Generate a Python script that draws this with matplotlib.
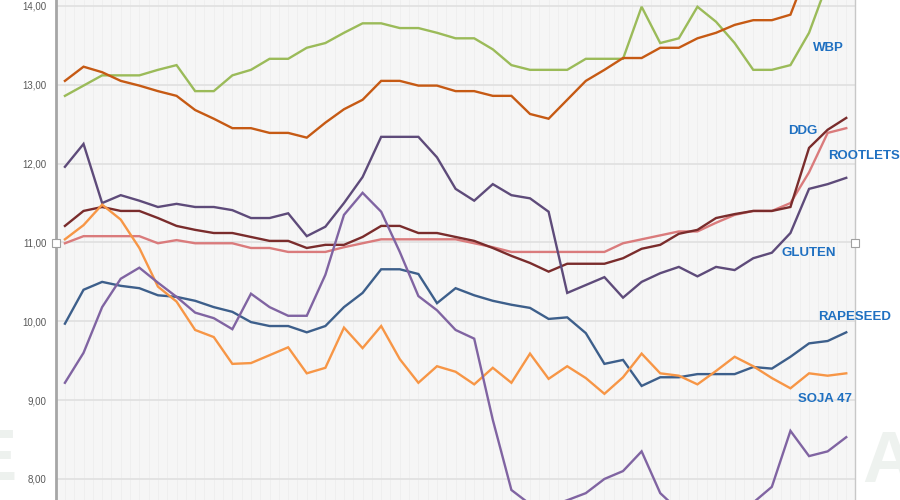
import numpy as np
import matplotlib
matplotlib.use('Agg')
import matplotlib.pyplot as plt

matplotlib.rcParams['hatch.color'] = '#e8e8e8'
matplotlib.rcParams['hatch.linewidth'] = 0.6

# weekly prices, 43 points (values above 14.08 are cut off at the top)
wbp = [12.86, 12.99, 13.12, 13.12, 13.12, 13.19, 13.25, 12.92, 12.92, 13.12, 13.19,
       13.33, 13.33, 13.47, 13.53, 13.66, 13.78, 13.78, 13.72, 13.72, 13.66, 13.59,
       13.59, 13.45, 13.25, 13.19, 13.19, 13.19, 13.33, 13.33, 13.33, 13.99, 13.53,
       13.59, 13.99, 13.80, 13.53, 13.19, 13.19, 13.25, 13.66, 14.30, 14.60]
brown = [13.05, 13.23, 13.16, 13.05, 12.99, 12.92, 12.86, 12.68, 12.57, 12.45, 12.45,
         12.39, 12.39, 12.33, 12.52, 12.69, 12.81, 13.05, 13.05, 12.99, 12.99, 12.92,
         12.92, 12.86, 12.86, 12.63, 12.57, 12.81, 13.05, 13.19, 13.34, 13.34, 13.47,
         13.47, 13.59, 13.66, 13.76, 13.82, 13.82, 13.89, 14.50, 14.80, 15.00]
ddg = [11.21, 11.40, 11.45, 11.40, 11.40, 11.31, 11.21, 11.16, 11.12, 11.12, 11.07,
       11.02, 11.02, 10.93, 10.97, 10.97, 11.07, 11.21, 11.21, 11.12, 11.12, 11.07,
       11.02, 10.93, 10.83, 10.74, 10.63, 10.73, 10.73, 10.73, 10.80, 10.92, 10.97,
       11.11, 11.16, 11.31, 11.36, 11.40, 11.40, 11.45, 12.20, 12.43, 12.58]
rootlets = [10.99, 11.08, 11.08, 11.08, 11.08, 10.99, 11.03, 10.99, 10.99, 10.99, 10.93,
            10.93, 10.88, 10.88, 10.88, 10.94, 10.99, 11.04, 11.04, 11.04, 11.04, 11.04,
            10.99, 10.94, 10.88, 10.88, 10.88, 10.88, 10.88, 10.88, 10.99, 11.04, 11.09,
            11.14, 11.14, 11.25, 11.35, 11.40, 11.40, 11.50, 11.89, 12.39, 12.45]
gluten = [11.96, 12.25, 11.50, 11.60, 11.53, 11.45, 11.49, 11.45, 11.45, 11.41, 11.31,
          11.31, 11.37, 11.08, 11.20, 11.50, 11.83, 12.34, 12.34, 12.34, 12.08, 11.68,
          11.53, 11.74, 11.60, 11.56, 11.39, 10.36, 10.46, 10.56, 10.30, 10.50, 10.61,
          10.69, 10.57, 10.69, 10.65, 10.80, 10.87, 11.12, 11.68, 11.74, 11.82]
rapeseed = [9.97, 10.40, 10.50, 10.45, 10.42, 10.33, 10.31, 10.26, 10.18, 10.12, 9.99,
            9.94, 9.94, 9.86, 9.94, 10.18, 10.36, 10.66, 10.66, 10.60, 10.23, 10.42,
            10.33, 10.26, 10.21, 10.17, 10.03, 10.05, 9.85, 9.46, 9.51, 9.18, 9.29,
            9.29, 9.33, 9.33, 9.33, 9.42, 9.40, 9.55, 9.72, 9.75, 9.86]
soja47 = [11.04, 11.22, 11.48, 11.29, 10.93, 10.44, 10.25, 9.89, 9.80, 9.46, 9.47,
          9.57, 9.67, 9.34, 9.41, 9.92, 9.66, 9.94, 9.52, 9.22, 9.43, 9.36,
          9.20, 9.41, 9.22, 9.59, 9.27, 9.43, 9.28, 9.08, 9.29, 9.59, 9.34,
          9.31, 9.20, 9.37, 9.55, 9.43, 9.28, 9.15, 9.34, 9.31, 9.34]
lilac = [9.22, 9.60, 10.18, 10.54, 10.68, 10.49, 10.31, 10.11, 10.04, 9.90, 10.35,
         10.18, 10.07, 10.07, 10.59, 11.35, 11.63, 11.39, 10.88, 10.32, 10.14, 9.89,
         9.78, 8.75, 7.86, 7.68, 7.65, 7.73, 7.82, 8.00, 8.10, 8.35, 7.82,
         7.60, 7.55, 7.55, 7.60, 7.70, 7.90, 8.61, 8.29, 8.35, 8.53]

series = [
    (wbp, '#9bbb59'),
    (brown, '#c65a14'),
    (rootlets, '#da7b7c'),
    (ddg, '#7a2c2c'),
    (gluten, '#5e4b7a'),
    (rapeseed, '#3d5f8b'),
    (soja47, '#f79646'),
    (lilac, '#8064a2'),
]

yticks = [8, 9, 10, 11, 12, 13, 14]
ytick_labels = ['8,00', '9,00', '10,00', '11,00', '12,00', '13,00', '14,00']

# series labels (text, x index, y value)
labels = [('WBP', 40.2, 13.47), ('DDG', 38.9, 12.42), ('ROOTLETS', 41.0, 12.10),
          ('GLUTEN', 38.5, 10.87), ('RAPESEED', 40.5, 10.06), ('SOJA 47', 39.4, 9.01)]

fig = plt.figure(figsize=(9, 5), dpi=100)

# faint watermark letters behind the chart
fig.text(-0.035, 0.04, 'E', fontsize=52, fontweight='bold', color='#edf1ee',
         family='Liberation Sans', zorder=0)
fig.text(0.958, 0.035, 'A', fontsize=52, fontweight='bold', color='#eef2ef',
         family='Liberation Sans', zorder=0)

ax = fig.add_axes([56 / 900, 0, 799 / 900, 1])
ax.patch.set_facecolor('#f6f6f6')
ax.patch.set_hatch('\\\\\\\\')

x = np.arange(len(wbp))
for xv in np.arange(-0.5, 42.6, 0.5):
    ax.axvline(xv, color='#ececec', lw=0.5, zorder=0.5)

for vals, col in series:
    ax.plot(x, vals, color=col, lw=1.7, solid_joinstyle='miter', zorder=3)

ax.set_xlim(-0.48, 42.47)
ax.set_ylim(7.733, 14.076)
ax.set_yticks(yticks)
ax.set_yticklabels(ytick_labels)
ax.set_xticks([])
ax.grid(axis='y', color='#e0e0e0', lw=1.2, zorder=1)
ax.set_axisbelow(True)
ax.tick_params(axis='y', length=0, pad=7, labelsize=7, labelcolor='#595959')
for lab in ax.get_yticklabels():
    lab.set_family('Liberation Sans')

for s in ['top', 'bottom']:
    ax.spines[s].set_visible(False)
ax.spines['left'].set_color('#a6a6a6')
ax.spines['left'].set_linewidth(2)
ax.spines['right'].set_color('#c8c8c8')
ax.spines['right'].set_linewidth(1)

for txt, lx, ly in labels:
    ax.text(lx, ly, txt, color='#1f70c1', fontsize=9.5, fontweight='bold',
            family='Liberation Sans', ha='left', va='center', clip_on=False, zorder=5)

# selection handles of the chart object
ax.plot([0, 1], [0.514, 0.514], 's', ms=6, mfc='white', mec='#a0a0a0', mew=0.8,
        transform=ax.transAxes, clip_on=False, zorder=6)

plt.savefig('out.png', dpi=100)
